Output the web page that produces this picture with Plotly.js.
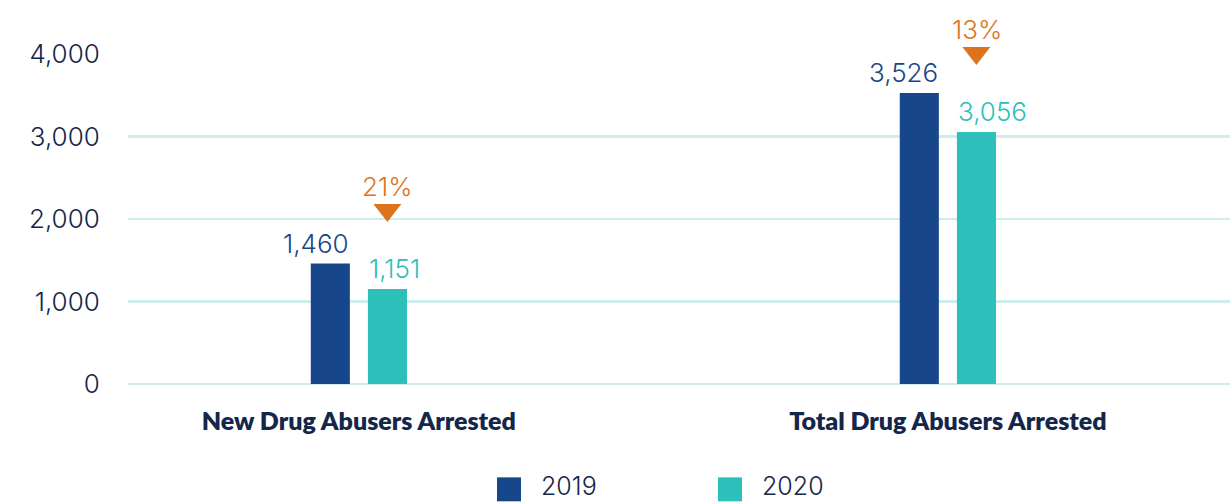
<!DOCTYPE html>
<html>
<head>
<meta charset="utf-8">
<script src="https://cdn.plot.ly/plotly-3.0.1.min.js"></script>
<style>html,body{margin:0;padding:0;background:#fff;}#chart{width:1230px;height:502px;}</style>
</head>
<body>
<div id="chart"></div>
<script>
const categories = ['New Drug Abusers Arrested', 'Total Drug Abusers Arrested'];
const seriesNames = ['2019', '2020'];
const values2019 = [1460, 3526];
const values2020 = [1151, 3056];
const pctChange = ['21%', '13%'];
const yTickVals = [0, 1000, 2000, 3000, 4000];
const yTickText = ['0', '1,000', '2,000', '3,000', '4,000'];
const yRange = [0, 4000];

const colors = ['#17468a', '#2dbfba'];
const orange = '#dd741d';
const navy = '#14264a';
const grid = '#cdeeed';
const numFont = 'Inter, "Noto Sans", sans-serif';

const fmt = v => v.toLocaleString('en-US');

const traces = [
  {type: 'bar', name: seriesNames[0], x: categories, y: values2019, marker: {color: colors[0]}, showlegend: false, hoverinfo: 'x+y'},
  {type: 'bar', name: seriesNames[1], x: categories, y: values2020, marker: {color: colors[1]}, showlegend: false, hoverinfo: 'x+y'}
];

const annotations = [];
const shapes = [];
categories.forEach((c, i) => {
  annotations.push({x: c, y: values2019[i], text: fmt(values2019[i]), showarrow: false, xanchor: 'right', yanchor: 'bottom', xshift: -8, yshift: 3,
    font: {family: numFont, size: 26, color: colors[0], weight: 300}});
  annotations.push({x: c, y: values2020[i], text: fmt(values2020[i]), showarrow: false, xanchor: 'left', yanchor: 'bottom', xshift: 8, yshift: 3,
    font: {family: numFont, size: 26, color: colors[1], weight: 300}});
  // down-pointing change marker above the 2020 bar (y in paper fraction so it is not clipped vertically)
  shapes.push({type: 'path', xref: 'x', yref: 'paper', xsizemode: 'pixel', ysizemode: 'pixel', xanchor: c,
    yanchor: (values2020[i] - yRange[0]) / (yRange[1] - yRange[0]),
    path: 'M 14.5 85 L 42.5 85 L 28.5 67 Z', fillcolor: orange, line: {width: 0}});
  annotations.push({x: c, y: values2020[i], text: pctChange[i], showarrow: false, xanchor: 'center', yanchor: 'bottom', xshift: 29, yshift: 85,
    font: {family: numFont, size: 26, color: orange, weight: 300}});
});

// manual legend (large square swatches)
const plotL = 128, plotW = 1102, y0px = 384.5, plotH = 330.5;
const px2x = p => (p - plotL) / plotW;
const px2y = p => (y0px - p) / plotH;
const legendX = [497, 718];
seriesNames.forEach((n, i) => {
  shapes.push({type: 'rect', xref: 'paper', yref: 'paper', x0: px2x(legendX[i]), x1: px2x(legendX[i] + 24), y0: px2y(478), y1: px2y(502),
    fillcolor: colors[i], line: {width: 0}});
  annotations.push({xref: 'paper', yref: 'paper', x: px2x(legendX[i] + 42), y: px2y(487), text: n, showarrow: false, xanchor: 'left', yanchor: 'middle',
    font: {family: numFont, size: 25, color: navy, weight: 300}});
});

const layout = {
  width: 1230, height: 502,
  margin: {l: 128, r: 0, t: 54, b: 117.5, pad: 0},
  paper_bgcolor: '#fff', plot_bgcolor: '#fff',
  barmode: 'group', bargap: 0.806, bargroupgap: 0.316,
  showlegend: false,
  xaxis: {type: 'category', range: [-0.392, 1.479], showgrid: false, zeroline: false, showline: false,
    ticks: 'outside', ticklen: 15, tickcolor: 'rgba(0,0,0,0)',
    tickfont: {family: 'Lato, sans-serif', size: 25, color: navy, weight: 800}},
  yaxis: {range: yRange, tickvals: yTickVals, ticktext: yTickText, showgrid: true, gridcolor: grid, gridwidth: 2.5,
    zeroline: true, zerolinecolor: grid, zerolinewidth: 2.5, showline: false,
    ticks: 'outside', ticklen: 22, tickcolor: 'rgba(0,0,0,0)',
    tickfont: {family: numFont, size: 26, color: navy, weight: 300}},
  annotations: annotations,
  shapes: shapes
};

Plotly.newPlot('chart', traces, layout, {displayModeBar: false, staticPlot: true});
</script>
</body>
</html>
